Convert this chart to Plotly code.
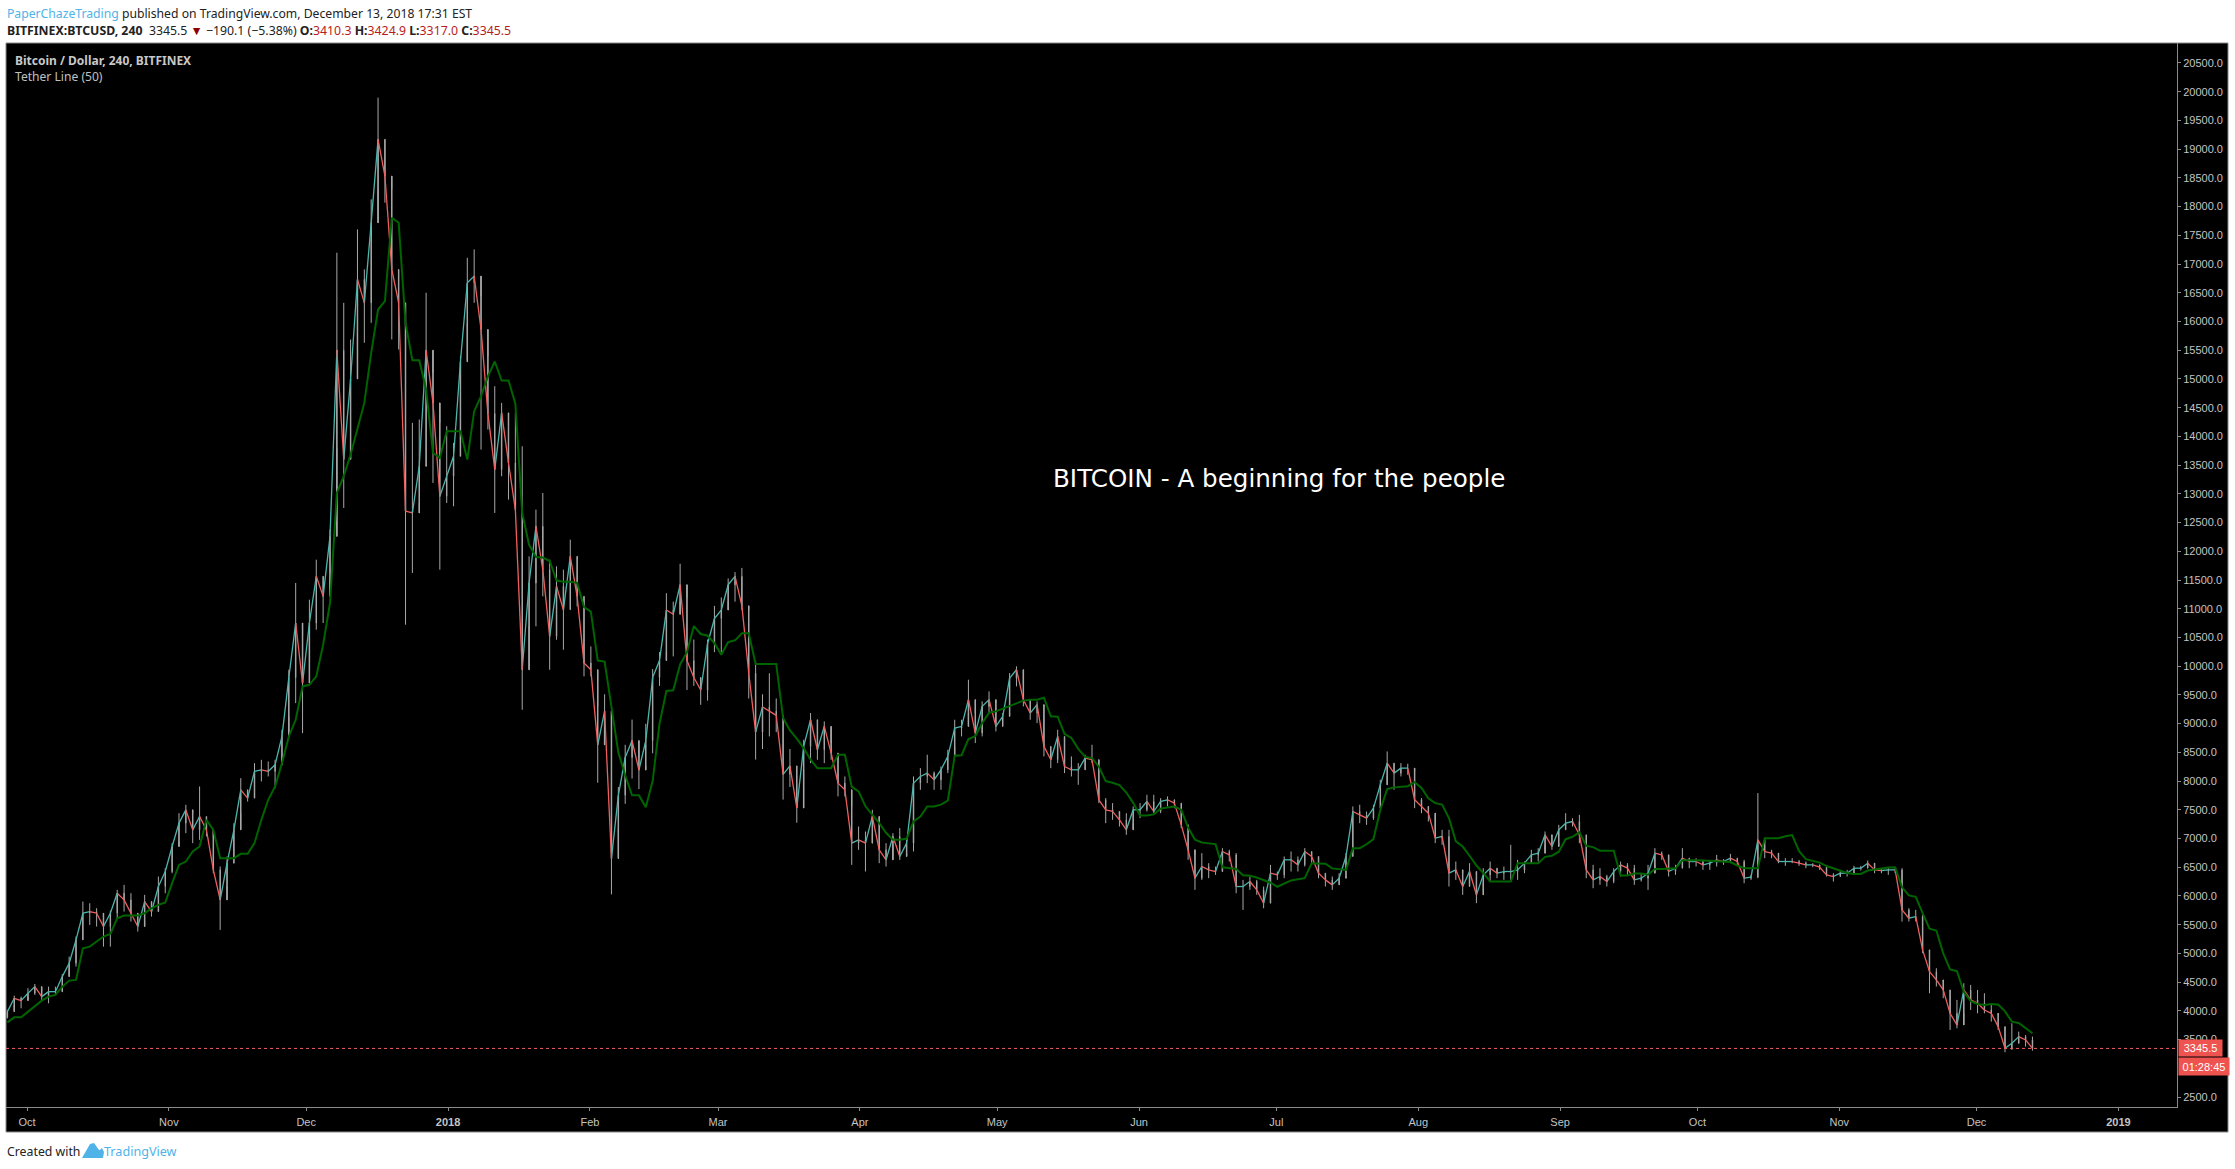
import pandas as pd
import plotly.graph_objects as go

W = 2235
H = 1169

# candles, one every 36h from late Sep 2017
first_open = 3880
highs = [
    4015, 4265, 4247, 4393, 4468, 4334, 4421, 4421, 4642, 4944,
    5293, 5902, 5873, 5786, 5641, 5746, 6106, 6193, 6048, 5670,
    6019, 5844, 6338, 6483, 6919, 7441, 7586, 7441, 7906, 7383,
    7035, 6512, 6686, 7267, 8051, 7848, 8312, 8370, 8341, 8370,
    8893, 9938, 11448, 10518, 11157, 11854, 11564, 12377, 17197, 16325,
    15687, 17603, 16906, 18126, 19897, 19171, 18300, 16906, 15280, 14235,
    14293, 16500, 15106, 14235, 14177, 13886, 15397, 17109, 17255, 16442,
    15397, 14874, 14583, 14177, 14409, 13828, 11912, 12725, 13015, 11854,
    11738, 11680, 12202, 11912, 11215, 10344, 9300, 9510, 8484, 7897,
    8631, 9070, 8411, 8997, 9950, 10244, 11270, 11123, 11783, 11197,
    10464, 9803, 10464, 11050, 11197, 11527, 11637, 11710, 10977, 10097,
    9510, 9877, 9437, 9144, 8557, 8264, 8719, 9184, 9067, 9038,
    8661, 8429, 8080, 7558, 7209, 7122, 7500, 7267, 6919, 7093,
    7180, 6977, 8080, 8225, 8458, 8167, 8254, 8545, 9067, 9067,
    9764, 9184, 9387, 9561, 9358, 9184, 9880, 9997, 9677, 9416,
    9387, 9300, 8603, 8893, 8777, 8429, 8313, 8458, 8632, 8313,
    7703, 7616, 7412, 7441, 7558, 7616, 7761, 7761, 7703, 7732,
    7674, 7616, 7238, 6716, 6745, 6570, 6512, 6832, 6803, 6745,
    6280, 6338, 6280, 6164, 6541, 6425, 6687, 6774, 6687, 6832,
    6774, 6687, 6396, 6338, 6396, 6745, 7558, 7587, 7470, 7587,
    8022, 8516, 8312, 8312, 8301, 8167, 7703, 7528, 7151, 7151,
    7151, 6599, 6396, 6570, 6367, 6483, 6599, 6483, 6512, 6890,
    6628, 6599, 6803, 6832, 7122, 7035, 7238, 7441, 7354, 7412,
    7064, 6541, 6483, 6367, 6483, 6599, 6570, 6541, 6396, 6541,
    6832, 6773, 6628, 6541, 6832, 6657, 6657, 6628, 6628, 6715,
    6640, 6733, 6657, 6628, 6367, 7790, 7006, 6803, 6715, 6657,
    6657, 6628, 6599, 6570, 6541, 6500, 6396, 6443, 6454, 6524,
    6524, 6617, 6541, 6483, 6500, 6483, 6483, 5787, 5758, 5670,
    5003, 4741, 4509, 4364, 4190, 4480, 4451, 4364, 4306, 4103,
    3928, 3725, 3783, 3638, 3580, 3551,
]
lows = [
    3870, 4102, 4044, 4247, 4277, 4178, 4131, 4277, 4393, 4724,
    4770, 5235, 5496, 5467, 5118, 5118, 5612, 5728, 5554, 5380,
    5554, 5641, 5757, 6048, 6396, 6948, 7093, 6919, 6977, 7035,
    6396, 5409, 6164, 6570, 7441, 7644, 7790, 7993, 8080, 7877,
    8312, 9120, 9357, 8834, 10518, 10635, 10751, 11506, 13800, 12754,
    13712, 15803, 15629, 15977, 18300, 18068, 15687, 15512, 10722, 11622,
    12841, 13500, 13190, 11680, 12841, 12783, 14177, 15977, 16325, 13770,
    14119, 12667, 13306, 12899, 12725, 9241, 10693, 10693, 11215, 9938,
    10460, 10286, 10983, 11041, 9822, 9822, 7970, 8924, 6028, 7164,
    7604, 8044, 7861, 8264, 8484, 9657, 10244, 10170, 11123, 9584,
    9657, 9327, 9400, 10244, 10244, 11123, 11123, 10977, 9437, 8374,
    8557, 8777, 8851, 7677, 7897, 7274, 8196, 8312, 8371, 8312,
    8371, 7732, 7732, 6541, 6803, 6425, 7093, 6570, 6512, 6861,
    6628, 6745, 6774, 7848, 7964, 7848, 7848, 8138, 8603, 8777,
    9184, 8661, 8777, 9184, 8864, 8951, 9184, 9648, 9300, 9067,
    9009, 8429, 8225, 8313, 8138, 8080, 7935, 8196, 8313, 7616,
    7267, 7325, 7209, 7064, 7267, 7354, 7470, 7441, 7441, 7558,
    7528, 7180, 6629, 6106, 6280, 6309, 6367, 6570, 6599, 6048,
    5757, 6106, 6019, 5786, 5874, 6280, 6309, 6425, 6425, 6512,
    6570, 6309, 6164, 6106, 6193, 6338, 6687, 7267, 7238, 7325,
    7528, 8080, 7848, 8080, 8109, 7528, 7441, 7296, 6919, 6890,
    6164, 6280, 6019, 6164, 5874, 6222, 6251, 6309, 6280, 6280,
    6280, 6396, 6570, 6599, 6890, 6803, 6919, 7151, 7209, 6919,
    6309, 6135, 6193, 6164, 6222, 6338, 6367, 6193, 6251, 6106,
    6541, 6628, 6338, 6367, 6483, 6483, 6512, 6454, 6454, 6512,
    6541, 6570, 6541, 6222, 6280, 6309, 6657, 6657, 6570, 6524,
    6570, 6524, 6483, 6500, 6454, 6338, 6251, 6338, 6338, 6396,
    6443, 6483, 6396, 6396, 6367, 6396, 5554, 5554, 5554, 5003,
    4306, 4422, 4219, 3667, 3696, 3957, 4015, 3957, 3957, 3812,
    3667, 3278, 3319, 3464, 3377, 3307,
]
closes = [
    3986, 4218, 4178, 4305, 4421, 4247, 4334, 4334, 4596, 4828,
    5235, 5699, 5728, 5699, 5467, 5699, 6048, 5931, 5699, 5467,
    5902, 5728, 6164, 6425, 6861, 7267, 7499, 7151, 7383, 7151,
    6454, 5931, 6570, 7151, 7848, 7703, 8167, 8196, 8167, 8283,
    8777, 9800, 10751, 9705, 10751, 11564, 11215, 12260, 15500, 13600,
    15000, 16732, 16325, 17719, 19171, 18532, 16906, 16325, 12700, 12667,
    13480, 15500, 14583, 12957, 13306, 13654, 15300, 16674, 16790, 15861,
    14400, 13422, 14409, 13538, 12725, 9938, 11448, 12435, 11680, 10518,
    11389, 10983, 11912, 11215, 10054, 9938, 8630, 9217, 6651, 7751,
    8411, 8704, 8191, 8704, 9803, 10097, 10977, 10903, 11417, 10097,
    9803, 9584, 10390, 10830, 10977, 11417, 11563, 11050, 9877, 8851,
    9290, 9217, 9144, 8117, 8264, 7531, 8603, 9067, 8545, 8951,
    8487, 7964, 7848, 6919, 6977, 6919, 7383, 6803, 6628, 7035,
    6687, 6919, 7964, 8080, 8138, 8022, 8196, 8429, 8922, 8951,
    9416, 8835, 9300, 9416, 8951, 9126, 9793, 9938, 9416, 9184,
    9329, 8603, 8371, 8777, 8254, 8196, 8196, 8400, 8371, 7674,
    7500, 7471, 7325, 7151, 7500, 7500, 7645, 7470, 7645, 7674,
    7616, 7238, 6803, 6309, 6512, 6454, 6425, 6774, 6716, 6164,
    6164, 6251, 6106, 5874, 6396, 6367, 6629, 6629, 6541, 6774,
    6687, 6396, 6280, 6193, 6309, 6687, 7470, 7412, 7354, 7528,
    7935, 8312, 8138, 8225, 8225, 7674, 7558, 7441, 7006, 7035,
    6396, 6454, 6164, 6425, 6019, 6367, 6483, 6396, 6425, 6425,
    6454, 6570, 6715, 6744, 7064, 6861, 7151, 7267, 7296, 7064,
    6454, 6280, 6338, 6251, 6425, 6541, 6483, 6280, 6309, 6396,
    6744, 6715, 6425, 6483, 6657, 6599, 6599, 6541, 6570, 6628,
    6599, 6657, 6599, 6309, 6326, 6977, 6773, 6744, 6599, 6599,
    6599, 6570, 6541, 6541, 6500, 6367, 6338, 6396, 6396, 6483,
    6483, 6570, 6454, 6443, 6454, 6454, 5758, 5612, 5641, 5061,
    4683, 4538, 4364, 3957, 3754, 4364, 4190, 4131, 4015, 3957,
    3725, 3348, 3435, 3551, 3493, 3345.5,
]
tether = [
    3800, 3887, 3887, 3986, 4073, 4178, 4247, 4277, 4421, 4526,
    4538, 5089, 5118, 5206, 5293, 5339, 5612, 5658, 5658, 5658,
    5699, 5786, 5844, 5885, 6222, 6541, 6599, 6773, 6861, 7325,
    7151, 6657, 6657, 6657, 6733, 6733, 6919, 7325, 7674, 7906,
    8312, 8776, 9067, 9647, 9676, 9822, 10373, 11099, 13015, 13306,
    13683, 14119, 14583, 15454, 16209, 16354, 17806, 17719, 15977, 15327,
    15327, 14816, 13712, 13625, 14090, 14090, 14090, 13596, 14438, 14699,
    15046, 15303, 14973, 14973, 14570, 12663, 12113, 11900, 11890, 11830,
    11490, 11470, 11470, 11450, 11030, 10950, 10097, 10080, 9300, 8500,
    8100, 7751, 7751, 7545, 8000, 9000, 9569, 9580, 10030, 10244,
    10698, 10560, 10530, 10400, 10200, 10420, 10450, 10574, 10574, 10038,
    10038, 10038, 10038, 9100, 8880, 8740, 8574, 8371, 8225, 8225,
    8225, 8458, 8458, 7900, 7820, 7560, 7420, 7270, 7100, 6980,
    6980, 7000, 7296, 7383, 7558, 7558, 7590, 7660, 8440, 8450,
    8730, 8780, 9009, 9190, 9213, 9260, 9310, 9360, 9400, 9416,
    9416, 9450, 9126, 9120, 8820, 8750, 8560, 8420, 8400, 8250,
    8000, 7970, 7930, 7800, 7620, 7400, 7400, 7420, 7520, 7540,
    7558, 7500, 7190, 6980, 6930, 6915, 6900, 6500, 6490, 6470,
    6360, 6350, 6320, 6270, 6230, 6160, 6220, 6270, 6290, 6310,
    6570, 6560, 6560, 6480, 6470, 6454, 6832, 6832, 6900, 6990,
    7500, 7860, 7890, 7900, 7910, 7980, 7880, 7700, 7615, 7590,
    7354, 6950, 6860, 6700, 6530, 6400, 6251, 6251, 6251, 6251,
    6570, 6570, 6570, 6570, 6680, 6700, 6770, 6988, 7030, 7110,
    6870, 6850, 6785, 6785, 6785, 6355, 6355, 6390, 6390, 6370,
    6470, 6470, 6470, 6480, 6620, 6625, 6620, 6615, 6610, 6605,
    6600, 6590, 6530, 6483, 6483, 6483, 7006, 7006, 7006, 7040,
    7060, 6780, 6640, 6610, 6580, 6520, 6480, 6440, 6400, 6384,
    6384, 6443, 6460, 6489, 6495, 6500, 6150, 6010, 5985, 5700,
    5430, 5398, 5000, 4720, 4690, 4330, 4170, 4120, 4100, 4120,
    4110, 3990, 3812, 3790, 3700, 3610,
]
assert len(highs) == len(lows) == len(closes) == len(tether)

# bars open where the previous one closed
opens = [first_open] + closes[:-1]
dates = pd.date_range("2017-09-26 17:00", periods=len(closes), freq="36h")

month_ticks = ["2017-10-01", "2017-11-01", "2017-12-01", "2018-01-01", "2018-02-01",
               "2018-03-01", "2018-04-01", "2018-05-01", "2018-06-01", "2018-07-01",
               "2018-08-01", "2018-09-01", "2018-10-01", "2018-11-01", "2018-12-01", "2019-01-01"]
month_labels = ["Oct", "Nov", "Dec", "<b>2018</b>", "Feb", "Mar", "Apr", "May", "Jun", "Jul",
                "Aug", "Sep", "Oct", "Nov", "Dec", "<b>2019</b>"]
# 3000 sits fully under the countdown tag in the original
price_ticks = [2500] + list(range(3500, 21000, 500))

TEAL = "#4db6ac"
RED = "#ef5f5f"
WICK = "#a8a8a8"
AXIS_TEXT = "#c4c4c4"
BORDER = "#8a8a8a"
TEXT_FONT = "Noto Sans"
BLUE = "#4fb3e8"
DARK_RED = "#b71c1c"


def px_x(x):
    return x / W


def px_y(y):
    return 1 - y / H


def add_text(fig, x, y, text, size, color, family=TEXT_FONT):
    fig.add_annotation(
        xref="paper", yref="paper", x=px_x(x), y=px_y(y), text=text, showarrow=False,
        xanchor="left", yanchor="middle", align="left", borderpad=0,
        font={"family": family, "size": size, "color": color},
    )


# one line piece per bar, from the previous date to this one, split by direction
def moves(rising):
    xs = []
    ys = []
    for i in range(1, len(closes)):
        if (closes[i] >= opens[i]) == rising:
            xs += [dates[i - 1], dates[i], None]
            ys += [opens[i], closes[i], None]
    return xs, ys


fig = go.Figure()

# grey wicks
fig.add_trace(go.Candlestick(
    x=dates, open=opens, high=highs, low=lows, close=closes,
    whiskerwidth=0,
    increasing={"line": {"color": WICK, "width": 1}, "fillcolor": WICK},
    decreasing={"line": {"color": WICK, "width": 1}, "fillcolor": WICK},
))
up_x, up_y = moves(True)
down_x, down_y = moves(False)
fig.add_trace(go.Scatter(x=up_x, y=up_y, mode="lines", line={"color": TEAL, "width": 1.3}))
fig.add_trace(go.Scatter(x=down_x, y=down_y, mode="lines", line={"color": RED, "width": 1.3}))
fig.add_trace(go.Scatter(
    x=dates, y=tether, mode="lines", name="Tether Line (50)",
    line={"color": "#006400", "width": 2},
))

fig.update_layout(
    width=W, height=H,
    margin={"l": 0, "r": 0, "t": 0, "b": 0},
    paper_bgcolor="white", plot_bgcolor="black",
    showlegend=False, boxgap=0.9,
    xaxis={
        "domain": [px_x(6), px_x(2177)],
        "range": ["2017-09-26 09:50", "2019-01-13 19:00"],
        "rangeslider": {"visible": False},
        "tickmode": "array", "tickvals": month_ticks, "ticktext": month_labels,
        "ticks": "outside", "ticklen": 3, "tickcolor": BORDER,
        "showgrid": False, "zeroline": False,
        "showline": True, "linecolor": BORDER, "linewidth": 1,
        "tickfont": {"family": "Liberation Sans", "size": 11, "color": AXIS_TEXT},
        "ticklabelstandoff": 2,
    },
    yaxis={
        "domain": [px_y(1107), px_y(43)],
        "range": [2326, 20848],
        "side": "right",
        "tickmode": "array", "tickvals": price_ticks, "tickformat": ".1f",
        "ticks": "outside", "ticklen": 3, "tickcolor": BORDER,
        "showgrid": False, "zeroline": False,
        "showline": True, "linecolor": BORDER, "linewidth": 1,
        "tickfont": {"family": "Liberation Sans", "size": 11, "color": AXIS_TEXT},
    },
)

# black panel behind the axes, it runs past the plot area
fig.add_shape(
    type="rect", xref="paper", yref="paper", layer="below",
    x0=px_x(6), x1=px_x(2228), y0=px_y(1132), y1=px_y(43),
    fillcolor="black", line={"color": BORDER, "width": 1},
)

# last price line
fig.add_shape(
    type="line", xref="x domain", yref="y", x0=0, x1=1, y0=closes[-1], y1=closes[-1],
    line={"color": RED, "width": 1, "dash": "dot"},
)

# price and countdown tags
fig.add_annotation(
    xref="paper", yref="y", x=px_x(2178), y=closes[-1], text=f"{closes[-1]:.1f}",
    showarrow=False, xanchor="left", yanchor="middle", width=43, height=16, borderpad=0,
    bgcolor="#ef5350", font={"family": "Liberation Sans", "size": 11, "color": "white"},
)
fig.add_annotation(
    xref="paper", yref="paper", x=px_x(2178), y=px_y(1066), text="01:28:45",
    showarrow=False, xanchor="left", yanchor="middle", width=50, height=17, borderpad=0,
    bgcolor="#ef5350", font={"family": "Liberation Sans", "size": 11, "color": "white"},
)

add_text(fig, 6, 13,
         f"<span style='color:{BLUE}'>PaperChazeTrading</span> published on TradingView.com, "
         "December 13, 2018 17:31 EST", 12.2, "#222222")
add_text(fig, 6, 30,
         "<b>BITFINEX:BTCUSD, 240</b>  3345.5 "
         f"<span style='color:#8b0000'>▼</span> −190.1 (−5.38%) "
         f"<b>O:</b><span style='color:{DARK_RED}'>3410.3</span> "
         f"<b>H:</b><span style='color:{DARK_RED}'>3424.9</span> "
         f"<b>L:</b><span style='color:{DARK_RED}'>3317.0</span> "
         f"<b>C:</b><span style='color:{DARK_RED}'>3345.5</span>", 12.3, "#222222")
add_text(fig, 14, 60, "<b>Bitcoin / Dollar, 240, BITFINEX</b>", 12, "#c8c8c8")
add_text(fig, 14, 77, "Tether Line (50)", 12.1, "#c0c0c0")
add_text(fig, 1052, 478, "BITCOIN - A beginning for the people", 24.6, "white", "DejaVu Sans")
add_text(fig, 6, 1151, "Created with", 12.3, "#222222")
add_text(fig, 103, 1151, "TradingView", 12.6, BLUE)

# small logo next to the footer text
logo = [(82, 1158), (90, 1144), (94, 1143), (99, 1150), (100, 1150), (102, 1148), (104, 1152), (103, 1158)]
logo_path = "M" + " L".join(f"{px_x(x):.5f},{px_y(y):.5f}" for x, y in logo) + " Z"
fig.add_shape(type="path", xref="paper", yref="paper", path=logo_path, fillcolor=BLUE, line={"width": 0})

# the page's default body margin would push the figure off by 8px
fig.write_html("out.html", config={"displayModeBar": False},
               post_script="document.body.style.margin = '0';")
